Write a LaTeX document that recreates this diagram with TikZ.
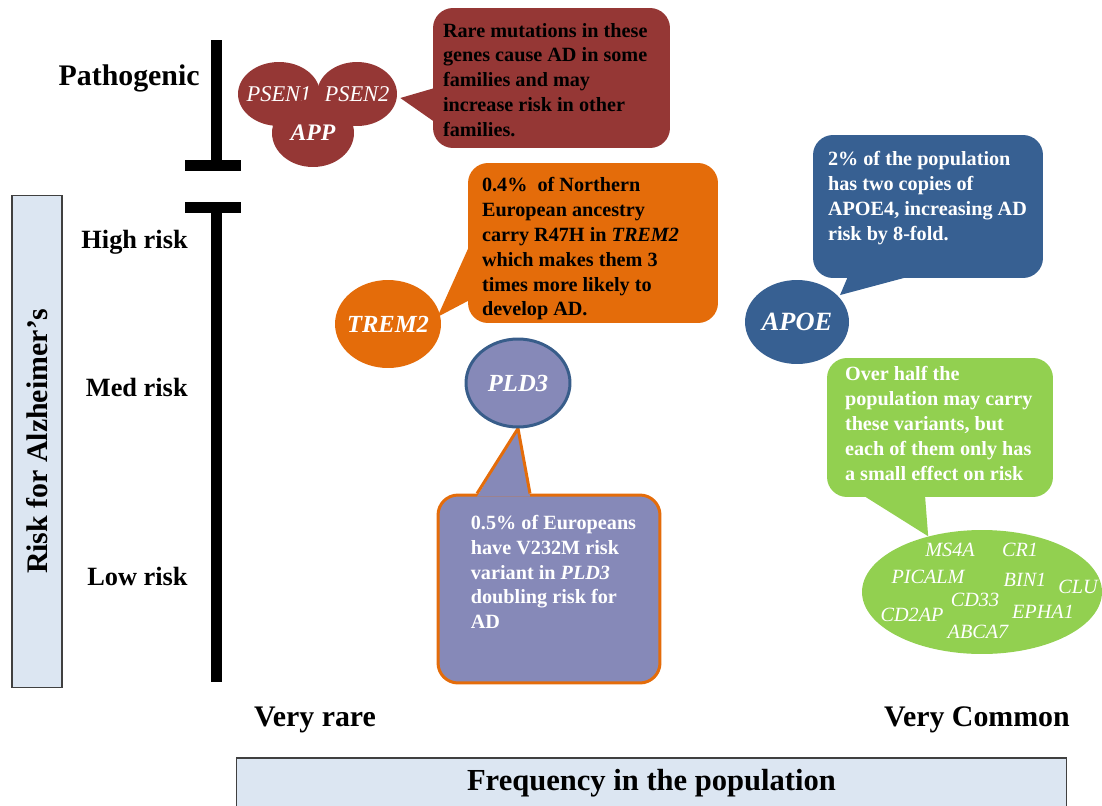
\documentclass[tikz,border=0pt]{standalone}
\usepackage{fontspec}
\setmainfont{Liberation Serif}
\usepackage{tikz}
\usepackage{xcolor}
\usetikzlibrary{positioning,shapes.geometric,calc,backgrounds}

\definecolor{redc}{HTML}{953735}
\definecolor{orangec}{HTML}{E46C0A}
\definecolor{bluec}{HTML}{376092}
\definecolor{lavc}{HTML}{8689B8}
\definecolor{rimc}{HTML}{385D8A}
\definecolor{greenc}{HTML}{92D050}
\definecolor{axisc}{HTML}{DCE6F2}

\begin{document}
\begin{tikzpicture}[
          x=0.02cm, y=-0.02cm,
          axislbl/.style={font=\fontsize{17}{20}\selectfont\bfseries, inner sep=0pt},
          risklbl/.style={font=\fontsize{15}{18}\selectfont\bfseries, anchor=east, inner sep=0pt},
          axisbox/.style={draw=black!75, line width=0.6pt, fill=axisc, inner sep=0pt},
          bar/.style={line width=0.22cm},
          bubble/.style={rounded corners=0.4cm, inner sep=0pt},
          bubtxt/.style={font=\fontsize{11.5}{14.2}\selectfont\bfseries, align=left, anchor=north west, inner sep=0pt},
          gene/.style={ellipse, inner sep=0pt, text=white, font=\fontsize{14}{16}\selectfont\bfseries\itshape,
                       execute at begin node={\hbox to 0pt\bgroup\hss}, execute at end node={\hss\egroup}},
          smallgene/.style={text=white, inner sep=0pt, font=\fontsize{11.5}{13}\selectfont\itshape}
      ]
        \useasboundingbox (0,0) rectangle (1102,805);

        % axes
        \node[axisbox, rotate=90, minimum width=9.86cm, minimum height=1cm,
              font=\fontsize{17}{20}\selectfont\bfseries] (riskaxis) at (37,441.5) {Risk for Alzheimer's};
        \node[axisbox, minimum width=16.62cm, minimum height=1cm,
              font=\fontsize{17.4}{20}\selectfont\bfseries] (freqaxis) at (651.5,783) {Frequency in the population};
        \draw[bar] (216,40) -- (216,165.5);
        \draw[bar] (185,165.5) -- (241,165.5);
        \draw[bar] (185,207.5) -- (241,207.5);
        \draw[bar] (216,207.5) -- (216,682);

        \node[axislbl, anchor=east] (patho) at (200,78) {Pathogenic};
        \node[risklbl] (high) at (188,242) {High risk};
        \node[risklbl] (med) at (188,387) {Med risk};
        \node[risklbl] (low) at (188,576) {Low risk};
        \node[axislbl] (rare) at (315,720) {Very rare};
        \node[axislbl] (common) at (977,720) {Very Common};

        % genes
        \node[gene, fill=redc, minimum width=1.6cm, minimum height=1.28cm,
              font=\fontsize{12.8}{14}\selectfont\itshape] (psen2) at (357,94) {PSEN2};
        \node[gene, fill=redc, minimum width=1.64cm, minimum height=1.28cm,
              font=\fontsize{12.8}{14}\selectfont\itshape] (psen1) at (279,94) {PSEN1};
        \node[gene, fill=redc, minimum width=1.64cm, minimum height=1.36cm,
              font=\fontsize{13.5}{15}\selectfont\bfseries\itshape] (app) at (313,133) {\raisebox{-4pt}{APP}};
        \node[gene, fill=orangec, minimum width=2.12cm, minimum height=1.76cm] (trem2) at (388,324) {TREM2};
        \node[gene, fill=bluec, minimum width=2.08cm, minimum height=1.68cm,
              font=\fontsize{15}{17}\selectfont\bfseries\itshape] (apoe) at (797,322) {APOE};
        \node[gene, fill=lavc, draw=rimc, line width=1.7pt, minimum width=2.08cm,
              minimum height=1.76cm] (pld3) at (518,383) {PLD3};
        \node[gene, fill=greenc, minimum width=4.8cm, minimum height=2.48cm] (genes) at (982,592) {};

        \node[smallgene] (ms4a) at (950,550) {MS4A};
        \node[smallgene] (cr1) at (1020,550) {CR1};
        \node[smallgene] (picalm) at (928,577) {PICALM};
        \node[smallgene] (bin1) at (1025,580) {BIN1};
        \node[smallgene] (clu) at (1078,587) {CLU};
        \node[smallgene] (cd33) at (975,600) {CD33};
        \node[smallgene] (epha1) at (1043,612) {EPHA1};
        \node[smallgene] (cd2ap) at (912,615) {CD2AP};
        \node[smallgene] (abca7) at (978,632) {ABCA7};

        % callouts
        \begin{scope}[on background layer]
        \node[bubble, fill=redc, minimum width=4.74cm, minimum height=2.8cm] (redbox) at (551.5,78) {};
        \fill[redc] ($(redbox.west)+(2,10)$) -- ($(psen2.east)+(3,4)$) -- ($(redbox.west)+(2,44)$) -- cycle;

        \node[bubble, fill=orangec, minimum width=5cm, minimum height=3.2cm] (trembox) at (593,243) {};
        \fill[orangec] ($(trembox.west)+(2,2)$) -- ($(trem2.east)+(-4,-7)$) -- ($(trembox.west)+(2,57)$) -- cycle;

        \node[bubble, fill=bluec, minimum width=4.6cm, minimum height=2.86cm] (apoebox) at (928,206.5) {};
        \fill[bluec] ($(apoebox.south)+(-80,-2)$) -- ($(apoe.north east)+(6,3)$) -- ($(apoebox.south)+(-18,-2)$) -- cycle;

        \node[bubble, fill=lavc, draw=orangec, line width=1.7pt, minimum width=4.44cm,
              minimum height=3.76cm] (pldbox) at (549,589) {};
        \fill[lavc] ($(pldbox.north)+(-72,3)$) -- (pld3.south) -- ($(pldbox.north)+(-19,3)$) -- cycle;
        \draw[orangec, line width=1.7pt] ($(pldbox.north)+(-72,0)$) -- (pld3.south) -- ($(pldbox.north)+(-19,0)$);

        \node[bubble, fill=greenc, minimum width=4.52cm, minimum height=2.78cm] (greenbox) at (940,427.5) {};
        \fill[greenc] ($(greenbox.south)+(-77,-2)$) -- (genes.134) -- ($(greenbox.south)+(-15,-2)$) -- cycle;
        \end{scope}

        \node[bubtxt] (redtxt) at ($(redbox.north west)+(10,15)$)
          {Rare mutations in these\\genes cause AD in some\\families and may\\increase risk in other\\families.};
        \node[bubtxt] (tremtxt) at ($(trembox.north west)+(14,14)$)
          {0.4\%~ of Northern\\European ancestry\\carry R47H in \textit{TREM2}\\which makes them 3\\times more likely to\\develop AD.};
        \node[bubtxt, text=white] (apoetxt) at ($(apoebox.north west)+(15,16)$)
          {2\% of the population\\has two copies of\\APOE4, increasing AD\\risk by 8-fold.};
        \node[bubtxt, text=white] (pldtxt) at ($(pldbox.north west)+(34,21)$)
          {0.5\% of Europeans\\have V232M risk\\variant in \textit{PLD3}\\doubling risk for\\AD};
        \node[bubtxt, text=white] (greentxt) at ($(greenbox.north west)+(18,8)$)
          {Over half the\\population may carry\\these variants, but\\each of them only has\\a small effect on risk};
      \end{tikzpicture}
\end{document}
